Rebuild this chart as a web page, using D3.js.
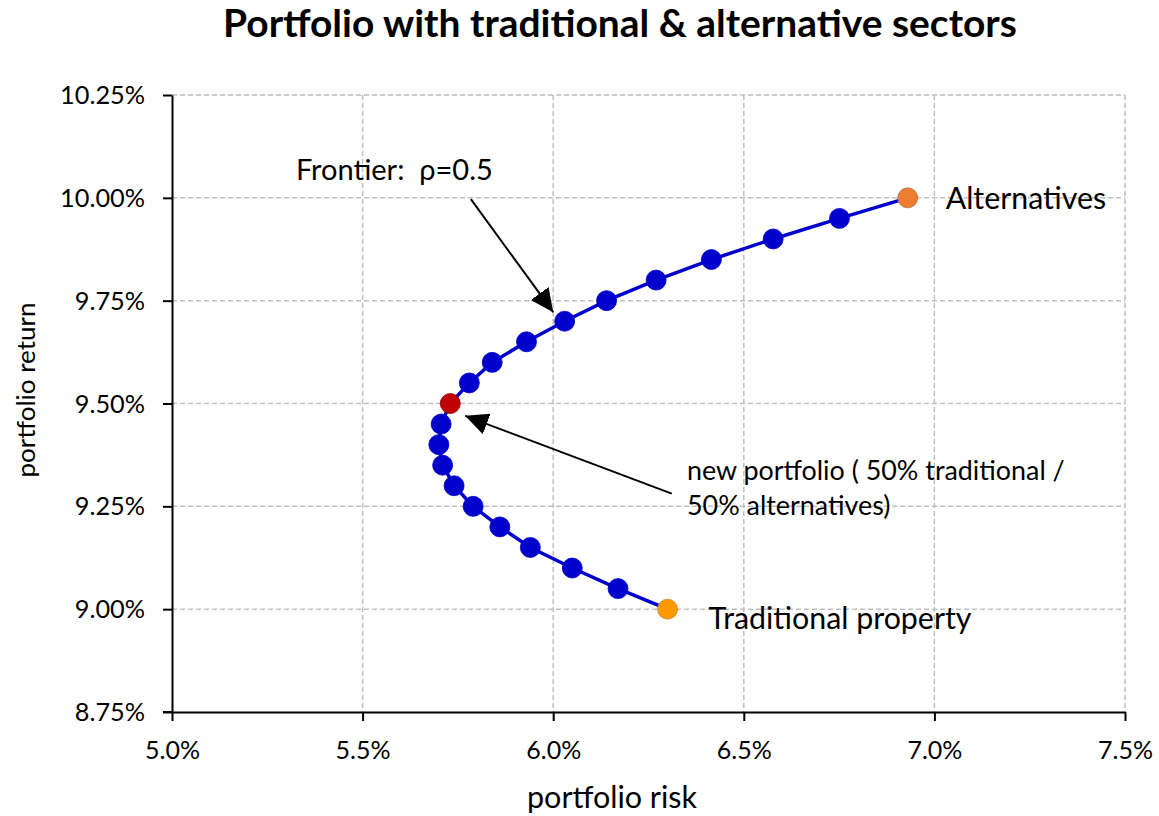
<!DOCTYPE html>
<html>
<head>
<meta charset="utf-8">
<script src="https://cdn.jsdelivr.net/npm/d3@7"></script>
<style>
  html, body { margin: 0; padding: 0; background: #fff; }
  svg { display: block; }
  text { white-space: pre; }
</style>
</head>
<body>
<div id="chart"></div>
<script>
// ---- data ----
const portfolioReturn = [9.00, 9.05, 9.10, 9.15, 9.20, 9.25, 9.30, 9.35, 9.40, 9.45, 9.50,
                         9.55, 9.60, 9.65, 9.70, 9.75, 9.80, 9.85, 9.90, 9.95, 10.00];
const portfolioRisk   = [6.30, 6.17, 6.05, 5.94, 5.86, 5.79, 5.74, 5.71, 5.70, 5.706, 5.73,
                         5.78, 5.84, 5.93, 6.03, 6.14, 6.27, 6.415, 6.577, 6.751, 6.93];
const xTicks = [5.0, 5.5, 6.0, 6.5, 7.0, 7.5];
const yTicks = [8.75, 9.00, 9.25, 9.50, 9.75, 10.00, 10.25];
const titleText = "Portfolio with traditional & alternative sectors";
const xTitle = "portfolio risk";
const yTitle = "portfolio return";
const newPortfolioReturn = 9.50;
const endpointLabels = [
  { name: "Alternatives", risk: 6.93, ret: 10.00 },
  { name: "Traditional property", risk: 6.30, ret: 9.00 }
];
const annotations = [
  { lines: ["Frontier:  \u03C1=0.5"], x: 5.325, y: 10.043, from: [5.784, 9.997], to: [6.0, 9.722] },
  { lines: ["new portfolio ( 50% traditional /", "50% alternatives)"], x: 6.351, y: 9.314, from: [6.311, 9.281], to: [5.769, 9.470] }
];

(function () {
// ---- layout ----
const W = 1159, H = 816;
const FONT = "Lato, 'Open Sans', sans-serif";
const mLeft = 172, mRight = 1125, mTop = 95, mBottom = 712;

const svg = d3.select("#chart").append("svg").attr("width", W).attr("height", H);

function fitSize(text, weight, target) {
  const t = svg.append("text").attr("font-family", FONT).attr("font-size", 100)
    .attr("font-weight", weight).text(text);
  const w = t.node().getComputedTextLength();
  t.remove();
  return 100 * target / w;
}

const x = d3.scaleLinear().domain([5.0, 7.5]).range([mLeft, mRight]);
const y = d3.scaleLinear().domain([8.75, 10.25]).range([mBottom, mTop]);

// gridlines
const grid = svg.append("g");
grid.selectAll("line.gy").data(yTicks.filter(d => d > 8.75)).join("line")
  .attr("x1", mLeft).attr("x2", mRight)
  .attr("y1", d => y(d)).attr("y2", d => y(d))
  .attr("stroke", "#BFBFBF").attr("stroke-width", 1.5).attr("stroke-dasharray", "5,3");
grid.selectAll("line.gx").data(xTicks.filter(d => d > 5.0)).join("line")
  .attr("y1", mTop).attr("y2", mBottom)
  .attr("x1", d => x(d)).attr("x2", d => x(d))
  .attr("stroke", "#BFBFBF").attr("stroke-width", 1.5).attr("stroke-dasharray", "5,3");

// axes
const tickFsY = fitSize("10.25%", "normal", 85);
const tickFsX = fitSize("6.0%", "normal", 55);

const yAxis = svg.append("g").attr("transform", `translate(${mLeft},0)`)
  .call(d3.axisLeft(y).tickValues(yTicks).tickFormat(d => d.toFixed(2) + "%")
    .tickSize(9).tickSizeOuter(0).tickPadding(18));
yAxis.select(".domain").attr("stroke", "#000").attr("stroke-width", 2);
yAxis.selectAll(".tick line").attr("stroke", "#000").attr("stroke-width", 2);
yAxis.selectAll(".tick text").attr("dy", null).attr("y", 8.6)
  .attr("font-family", FONT).attr("font-size", tickFsY).attr("fill", "#000");

const xAxis = svg.append("g").attr("transform", `translate(0,${mBottom})`)
  .call(d3.axisBottom(x).tickValues(xTicks).tickFormat(d => d.toFixed(1) + "%")
    .tickSize(9).tickSizeOuter(0));
xAxis.select(".domain").attr("stroke", "#000").attr("stroke-width", 2);
xAxis.selectAll(".tick line").attr("stroke", "#000").attr("stroke-width", 2);
xAxis.selectAll(".tick text").attr("dy", null).attr("y", 47)
  .attr("font-family", FONT).attr("font-size", tickFsX).attr("fill", "#000");
svg.append("line").attr("x1", mLeft - 9).attr("x2", mLeft).attr("y1", mBottom).attr("y2", mBottom)
  .attr("stroke", "#000").attr("stroke-width", 2);

// title
svg.append("text").attr("x", 620).attr("y", 37).attr("text-anchor", "middle")
  .attr("font-family", FONT).attr("font-weight", "bold")
  .attr("font-size", fitSize(titleText, "bold", 794)).attr("fill", "#000").text(titleText);

// axis titles
svg.append("text").attr("x", 612).attr("y", 808).attr("text-anchor", "middle")
  .attr("font-family", FONT).attr("font-size", fitSize(xTitle, "normal", 170)).attr("fill", "#000").text(xTitle);
svg.append("text").attr("transform", "translate(35,390) rotate(-90)").attr("text-anchor", "middle")
  .attr("font-family", FONT).attr("font-size", fitSize(yTitle, "normal", 175)).attr("fill", "#000").text(yTitle);

// frontier line
const pts = portfolioReturn.map((r, i) => ({ ret: r, risk: portfolioRisk[i] }));
svg.append("path").datum(pts)
  .attr("d", d3.line().x(d => x(d.risk)).y(d => y(d.ret)))
  .attr("fill", "none").attr("stroke", "#0000CC").attr("stroke-width", 3.5);

const last = pts.length - 1;
function fillOf(d, i) {
  if (i === 0) return "#FF9900";
  if (i === last) return "#ED7D31";
  if (Math.abs(d.ret - newPortfolioReturn) < 1e-9) return "#C00000";
  return "#0000CC";
}
function strokeOf(d, i) {
  if (i === 0) return "#C8892E";
  if (i === last) return "#B8704A";
  if (Math.abs(d.ret - newPortfolioReturn) < 1e-9) return "#8B0000";
  return "#0000CC";
}
svg.append("g").selectAll("circle").data(pts).join("circle")
  .attr("cx", d => x(d.risk)).attr("cy", d => y(d.ret)).attr("r", 10)
  .attr("fill", fillOf).attr("stroke", strokeOf).attr("stroke-width", 0.8);

// endpoint labels
const labelFs = fitSize("Traditional property", "normal", 263);
const labelOffsets = { "Alternatives": [38, 11], "Traditional property": [41, 20] };
svg.append("g").selectAll("text").data(endpointLabels).join("text")
  .attr("x", d => x(d.risk) + labelOffsets[d.name][0])
  .attr("y", d => y(d.ret) + labelOffsets[d.name][1])
  .attr("font-family", FONT).attr("font-size", labelFs).attr("fill", "#000")
  .text(d => d.name);

// arrows
svg.append("defs").append("marker").attr("id", "arrow")
  .attr("markerUnits", "userSpaceOnUse").attr("markerWidth", 24).attr("markerHeight", 24)
  .attr("refX", 23).attr("refY", 11).attr("orient", "auto")
  .append("path").attr("d", "M0,0 L23,11 L0,22 Z").attr("fill", "#000");

const frontierFs = fitSize(annotations[0].lines[0], "normal", 197);
const npFs = fitSize(annotations[1].lines[0], "normal", 378);
const annFs = [frontierFs, npFs];

annotations.forEach((a, k) => {
  svg.append("line")
    .attr("x1", x(a.from[0])).attr("y1", y(a.from[1]))
    .attr("x2", x(a.to[0])).attr("y2", y(a.to[1]))
    .attr("stroke", "#000").attr("stroke-width", 2).attr("marker-end", "url(#arrow)");
  const t = svg.append("text").attr("font-family", FONT).attr("font-size", annFs[k]).attr("fill", "#000");
  a.lines.forEach((ln, j) => {
    t.append("tspan").attr("x", x(a.x)).attr("y", y(a.y) + j * 35).text(ln);
  });
});
})();
</script>
</body>
</html>
